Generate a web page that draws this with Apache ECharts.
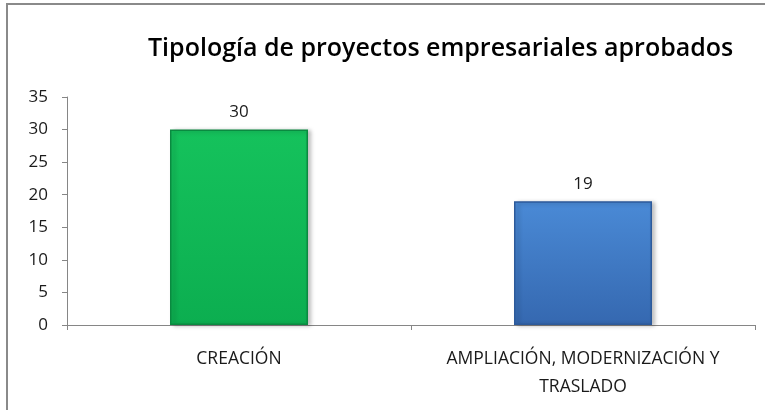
<!DOCTYPE html>
<html>
<head>
<meta charset="utf-8">
<script src="https://cdn.jsdelivr.net/npm/echarts@6/dist/echarts.min.js"></script>
<style>
  html, body { margin: 0; padding: 0; background: #fff; }
  #chart { width: 765px; height: 410px; }
</style>
</head>
<body>
<div id="chart"></div>
<script>
const categories = ["CREACIÓN", "AMPLIACIÓN, MODERNIZACIÓN Y\nTRASLADO"];
const values = [30, 19];
const yTicks = { min: 0, max: 35, interval: 5 };

const barStyles = [
  {
    color: new echarts.graphic.LinearGradient(0, 0, 0, 1, [
      { offset: 0, color: "#15c25c" },
      { offset: 1, color: "#0cae50" }
    ]),
    borderColor: "#0a8a40"
  },
  {
    color: new echarts.graphic.LinearGradient(0, 0, 0, 1, [
      { offset: 0, color: "#4a8ad6" },
      { offset: 1, color: "#3568b0" }
    ]),
    borderColor: "#2d5a9a"
  }
];

const myChart = echarts.init(document.getElementById("chart"), null, { renderer: "canvas" });

const option = {
  animation: false,
  textStyle: { fontFamily: "Open Sans" },
  // frame of the original picture (top and left edges only)
  graphic: [
    {
      type: "polyline",
      shape: { points: [[7, 420], [7, 4], [770, 4]] },
      style: { fill: "none", stroke: "#8a8a8a", lineWidth: 2 },
      silent: true
    }
  ],
  title: {
    text: "Tipología de proyectos empresariales aprobados",
    left: 143,
    top: 31,
    textStyle: { fontSize: 25, fontWeight: 600, color: "#000", fontFamily: "Open Sans" }
  },
  grid: { left: 67, right: 10, top: 97, bottom: 85, containLabel: false },
  xAxis: {
    type: "category",
    data: categories,
    axisLine: { lineStyle: { color: "#868686", width: 1 } },
    axisTick: { show: true, length: 5, lineStyle: { color: "#868686" } },
    axisLabel: { interval: 0, margin: 20, fontSize: 17.5, color: "#1a1a1a", lineHeight: 28 }
  },
  yAxis: {
    type: "value",
    min: yTicks.min,
    max: yTicks.max,
    interval: yTicks.interval,
    axisLine: { show: true, lineStyle: { color: "#868686", width: 1 } },
    axisTick: { show: true, length: 5, lineStyle: { color: "#868686" } },
    splitLine: { show: false },
    axisLabel: { margin: 19, fontSize: 17, color: "#1a1a1a" }
  },
  series: [
    {
      type: "bar",
      barWidth: 138,
      data: values.map((v, i) => ({
        value: v,
        itemStyle: {
          color: barStyles[i].color,
          borderColor: barStyles[i].borderColor,
          borderWidth: 1.5,
          shadowColor: "rgba(0,0,0,0.25)",
          shadowBlur: 4,
          shadowOffsetX: 3,
          shadowOffsetY: 1
        }
      })),
      label: { show: true, position: "top", distance: 9, fontSize: 17, color: "#1a1a1a" }
    }
  ]
};

option && myChart.setOption(option);
</script>
</body>
</html>
